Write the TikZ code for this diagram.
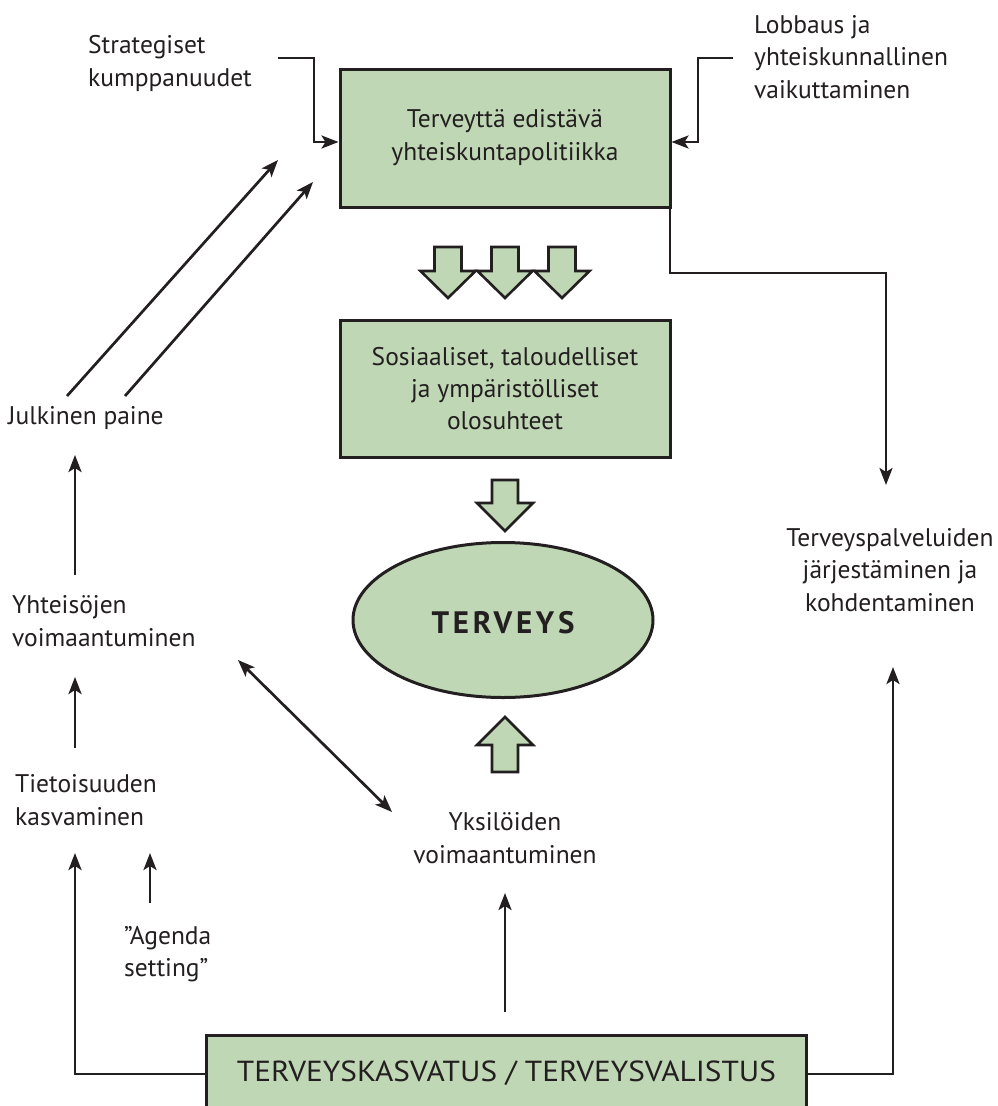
\documentclass[tikz,border=0pt]{standalone}
\usepackage{fontspec}
\setmainfont{PT Sans}
\newfontfamily\wideb[LetterSpace=12.0]{PT Sans}
\usetikzlibrary{arrows.meta,shapes.geometric}
\definecolor{sage}{RGB}{191,215,180}
\definecolor{ink}{RGB}{35,31,32}
\begin{document}
\begin{tikzpicture}[x=1pt,y=-1pt,
  box/.style={draw=ink,line width=3pt,fill=sage,text=ink,align=center,inner sep=0pt},
  lbl/.style={text=ink,inner sep=0pt,font=\fontsize{25.5}{32.5}\selectfont},
  conn/.style={draw=ink,line width=2.7pt},
  arr/.style={conn,-{Stealth[length=17pt,width=13pt,inset=4pt]}},
  darr/.style={conn,{Stealth[length=17pt,width=13pt,inset=4pt]}-{Stealth[length=17pt,width=13pt,inset=4pt]}},
  blk/.style={draw=ink,line width=2.6pt,fill=sage,line join=miter}]
\useasboundingbox (0,0) rectangle (997,1106);
\clip (0,0) rectangle (997,1106);
\fill[white] (0,0) rectangle (997,1106);

% boxes
\node[box,minimum width=330,minimum height=138,font=\fontsize{25.5}{33}\selectfont] (pol) at (505,138) {Terveyttä edistävä\\yhteiskuntapolitiikka};
\node[box,minimum width=330,minimum height=137,font=\fontsize{25.5}{32}\selectfont] (soc) at (505,388.5) {Sosiaaliset, taloudelliset\\ja ympäristölliset\\olosuhteet};
\node[box,ellipse,minimum width=300,minimum height=155] (ter) at (503,620) {};
\node[text=ink,inner sep=0pt,font=\wideb\bfseries\fontsize{31}{31}\selectfont] (tert) at (503,623) {TERVEYS};
\node[box,minimum width=600,minimum height=76,anchor=north west,font=\fontsize{29}{29}\selectfont] (edu) at (205,1034) {\scalebox{1.08}[1]{TERVEYSKASVATUS / TERVEYSVALISTUS}};

% labels
\node[lbl,anchor=west,align=left] (strat) at (88,63.5) {Strategiset\\kumppanuudet};
\node[lbl,anchor=west,align=left] (lob) at (754,57) {Lobbaus ja\\yhteiskunnallinen\\vaikuttaminen};
\node[lbl,anchor=west] (julk) at (8,418) {Julkinen paine};
\node[lbl,anchor=west,align=left] (yht) at (12,621) {Yhteisöjen\\voimaantuminen};
\node[lbl,anchor=west,align=left] (tiet) at (15,800) {Tietoisuuden\\kasvaminen};
\node[lbl,anchor=west,align=left] (agenda) at (124,954) {”Agenda\\setting”};
\node[lbl,align=center] (yks) at (505,838) {Yksilöiden\\voimaantuminen};
\node[lbl,align=center] (tpal) at (890,570) {Terveyspalveluiden\\järjestäminen ja\\kohdentaminen};

% block arrows (down)
\foreach \cx in {448,505,562}{
  \path[blk] (\cx-13.5,247) -- (\cx+13.5,247) -- (\cx+13.5,271) -- (\cx+27.5,271) -- (\cx,298) -- (\cx-27.5,271) -- (\cx-13.5,271) -- cycle;
}
\path[blk] (492,480) -- (518,480) -- (518,503) -- (533,503) -- (505,531) -- (477,503) -- (492,503) -- cycle;
% block arrow (up)
\path[blk] (492,772) -- (518,772) -- (518,745) -- (533,745) -- (505,717) -- (477,745) -- (492,745) -- cycle;

% coordinates
\coordinate (s0) at (278,58);
\coordinate (l0) at (733,58);
\coordinate (yin) at (0,142);
\coordinate (ybot) at (0,1074);
\coordinate (tp) at (886,485);
\coordinate (tpb) at (893,667);
\coordinate (tt) at (75,853);
\coordinate (ag0) at (150,903);
\coordinate (ag1) at (150,853);
\coordinate (y0) at (505,1012);
\coordinate (y1) at (505,893);
\coordinate (ti0) at (75,748);
\coordinate (ti1) at (75,677);
\coordinate (yh0) at (75,575);
\coordinate (yh1) at (75,455);
\coordinate (j0) at (67,396);
\coordinate (j1) at (278,160);
\coordinate (j2) at (125,396);
\coordinate (j3) at (313,182);
\coordinate (d0) at (238,660);
\coordinate (d1) at (392,812);

% connectors
\draw[arr] (s0) -- (314,58) -- (314,142) -- (pol.west |- yin);
\draw[arr] (l0) -- (698,58) -- (698,142) -- (pol.east |- yin);
\draw[arr] (670,207) -- (670,273) -- (886,273) -- (tp);
\draw[arr] (edu.east |- ybot) -- (893,1074) -- (tpb);
\draw[arr] (edu.west |- ybot) -- (75,1074) -- (tt);
\draw[arr] (ag0) -- (ag1);
\draw[arr] (y0) -- (y1);
\draw[arr] (ti0) -- (ti1);
\draw[arr] (yh0) -- (yh1);
\draw[arr] (j0) -- (j1);
\draw[arr] (j2) -- (j3);
\draw[darr] (d0) -- (d1);
\end{tikzpicture}
\end{document}
